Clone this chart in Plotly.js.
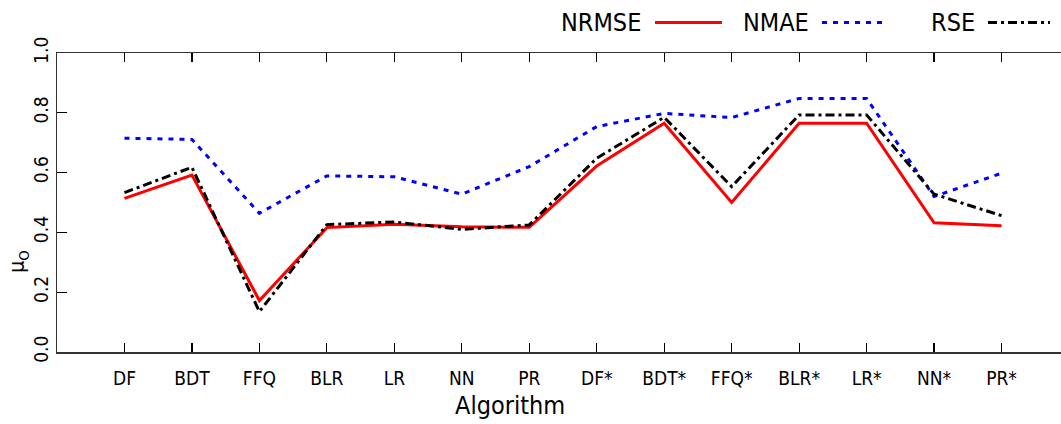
<!DOCTYPE html>
<html>
<head>
<meta charset="utf-8">
<script src="https://cdn.plot.ly/plotly-3.0.1.min.js"></script>
<style>html,body{margin:0;padding:0;background:#fff;}#chart{width:1061px;height:424px;}</style>
</head>
<body>
<div id="chart"></div>
<script>
var categories = ["DF","BDT","FFQ","BLR","LR","NN","PR","DF*","BDT*","FFQ*","BLR*","LR*","NN*","PR*"];
var nrmse = [0.514,0.592,0.172,0.416,0.427,0.419,0.417,0.622,0.765,0.500,0.765,0.765,0.432,0.422];
var nmae  = [0.715,0.711,0.464,0.589,0.586,0.528,0.620,0.754,0.798,0.784,0.848,0.848,0.520,0.598];
var rse   = [0.533,0.618,0.135,0.426,0.435,0.410,0.425,0.648,0.785,0.553,0.793,0.793,0.528,0.456];
var seriesNames = ["NRMSE","NMAE","RSE"];
var seriesColors = ["#ff0000","#0000ff","#000000"];
var seriesDash = ["solid","5px,6px","9px,4px,3px,4px"];
var seriesValues = [nrmse, nmae, rse];
var xTitle = "Algorithm";
var yTitle = "μ<sub>O</sub>";

var FONT = "'DejaVu Sans Condensed', 'DejaVu Sans', sans-serif";
var idx = categories.map(function(_, i){ return i; });

var traces = seriesValues.map(function(v, k){
  return {
    x: idx, y: v, type: 'scatter', mode: 'lines', name: seriesNames[k],
    line: {color: seriesColors[k], width: 3, dash: seriesDash[k]},
    showlegend: false, hoverinfo: 'skip'
  };
});

// legend (text followed by line sample), placed in paper coords
var plotLeft = 57, plotW = 1004, plotBottom = 352.3, plotH = 299;
function px2x(p){ return (p - plotLeft) / plotW; }
function py2y(p){ return (plotBottom - p) / plotH; }
var legText = [{t:"NRMSE", x0:559}, {t:"NMAE", x0:741}, {t:"RSE", x0:929}];
var legLine = [[655,722],[822,885],[988,1050]];
var annotations = [], shapes = [];
legText.forEach(function(l, k){
  annotations.push({
    text: l.t, xref:'paper', yref:'paper', x: px2x(l.x0), y: py2y(22.5),
    xanchor:'left', yanchor:'middle', showarrow:false,
    font:{family:FONT, size:25, color:'#000'}
  });
  shapes.push({
    type:'line', xref:'paper', yref:'paper',
    x0: px2x(legLine[k][0]), x1: px2x(legLine[k][1]), y0: py2y(22.7), y1: py2y(22.7),
    line:{color: seriesColors[k], width: 3, dash: seriesDash[k]}
  });
});
// axis titles (placed as in the reference, off-centre)
annotations.push({
  text: xTitle, xref:'paper', yref:'paper', x: px2x(510), y: py2y(406),
  xanchor:'center', yanchor:'middle', showarrow:false,
  font:{family:FONT, size:25, color:'#000'}
});
annotations.push({
  text: yTitle, xref:'paper', yref:'paper', x: px2x(18), y: py2y(262),
  xanchor:'center', yanchor:'middle', showarrow:false, textangle: -90,
  font:{family:FONT, size:21, color:'#000'}
});

var layout = {
  width: 1061, height: 424,
  margin: {l: 57, r: 0, t: 53, b: 72},
  paper_bgcolor: '#fff', plot_bgcolor: '#fff',
  font: {family: FONT, color: '#000'},
  xaxis: {
    range: [-1, (1061-124)/67.5], tickmode: 'array', tickvals: idx, ticktext: categories,
    ticks: 'inside', ticklen: 9, tickwidth: 1.2, tickcolor: '#000',
    showline: true, linecolor: '#333', linewidth: 1.5, mirror: 'ticks',
    showgrid: false, zeroline: false,
    tickfont: {family: FONT, size: 19, color: '#000'},
    ticklabelstandoff: 9
  },
  yaxis: {
    range: [0, 1], tickvals: [0,0.2,0.4,0.6,0.8,1.0], ticktext: ['0.0','0.2','0.4','0.6','0.8','1.0'],
    ticks: 'inside', ticklen: 10, tickwidth: 1.2, tickcolor: '#000',
    showline: true, linecolor: '#333', linewidth: 1.5, mirror: false,
    showgrid: false, zeroline: false, tickangle: -90,
    tickfont: {family: FONT, size: 19, color: '#000'}
  },
  annotations: annotations,
  shapes: shapes
};

Plotly.newPlot('chart', traces, layout, {displayModeBar: false, staticPlot: true});
</script>
</body>
</html>
